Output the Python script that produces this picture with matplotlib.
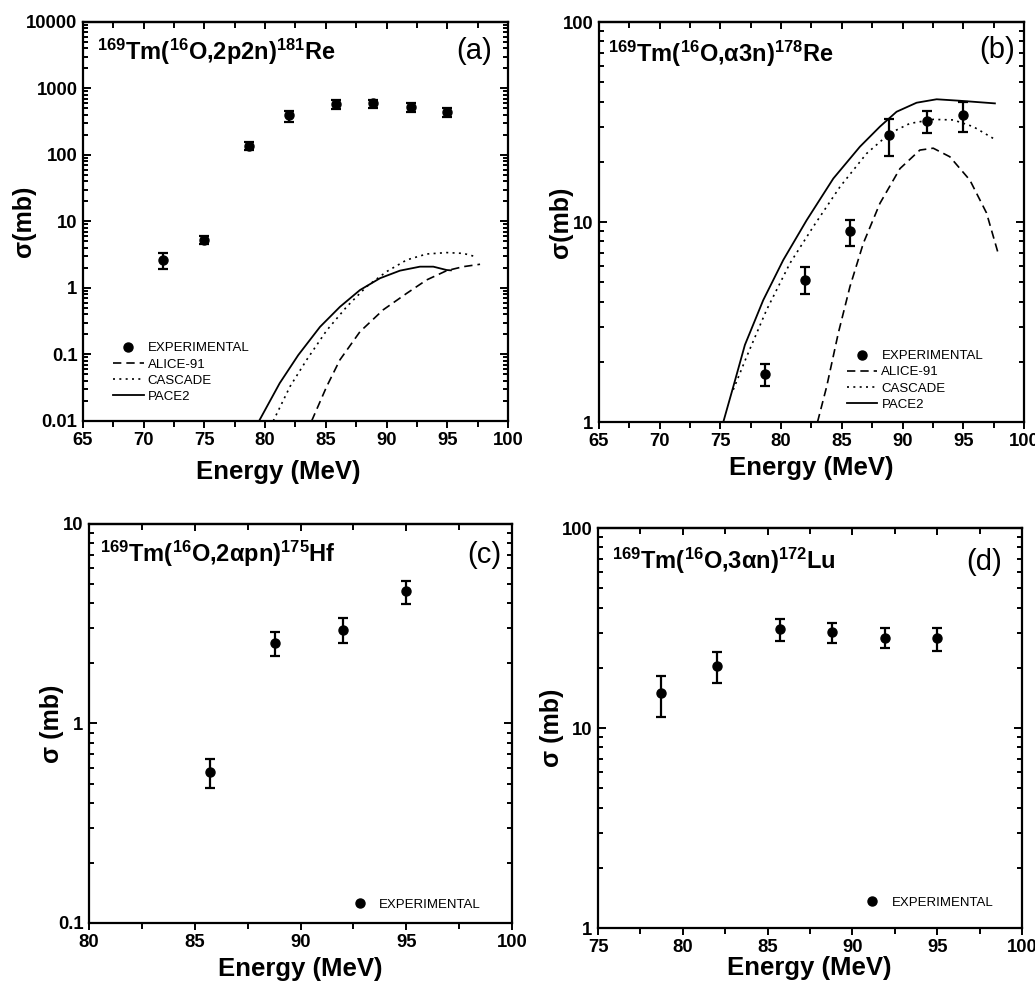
import numpy as np
import matplotlib
matplotlib.use("Agg")
import matplotlib.pyplot as plt
from matplotlib.ticker import MultipleLocator, LogLocator, FuncFormatter, NullFormatter

plt.rcParams['font.family'] = ['Liberation Sans', 'DejaVu Sans']
plt.rcParams['mathtext.fontset'] = 'custom'
plt.rcParams['mathtext.rm'] = 'Liberation Sans:bold'
plt.rcParams['mathtext.bf'] = 'Liberation Sans:bold'
plt.rcParams['mathtext.default'] = 'bf'

# (a) 169Tm(16O,2p2n)181Re
a_E = [71.6, 75.0, 78.7, 82.0, 85.8, 88.9, 92.0, 95.0]
a_sig = [2.6, 5.3, 136, 400, 585, 598, 521, 438]
a_lo = [1.9, 4.6, 119, 318, 490, 510, 450, 377]
a_hi = [3.4, 6.0, 155, 465, 680, 680, 600, 505]
a_alice_E = [83.83, 85.07, 86.16, 87.81, 89.73, 91.66, 93.3, 94.95, 96.32, 97.7]
a_alice = [0.01, 0.033, 0.083, 0.22, 0.47, 0.83, 1.32, 1.82, 2.09, 2.27]
a_casc_E = [80.67, 82.05, 83.42, 85.07, 86.71, 88.36, 90.0, 91.66, 93.3, 94.95, 96.32, 97.14]
a_casc = [0.01, 0.033, 0.083, 0.23, 0.52, 1.05, 1.76, 2.64, 3.24, 3.40, 3.31, 3.02]
a_pace_E = [79.5, 81.2, 82.73, 84.52, 86.16, 87.81, 89.46, 91.1, 92.75, 93.85, 94.95, 95.3]
a_pace = [0.01, 0.037, 0.098, 0.26, 0.52, 0.93, 1.40, 1.82, 2.09, 2.09, 1.86, 1.84]

# (b) 169Tm(16O,a3n)178Re
b_E = [78.7, 82.0, 85.7, 88.9, 92.0, 95.0]
b_sig = [1.73, 5.15, 8.98, 27.1, 32.0, 34.1]
b_lo = [1.51, 4.35, 7.6, 21.5, 27.8, 28.3]
b_hi = [1.94, 5.95, 10.2, 32.8, 35.8, 39.9]
b_alice_E = [83.0, 83.75, 84.71, 85.67, 86.77, 88.14, 89.79, 91.43, 92.53, 93.9, 95.55, 96.92, 97.88]
b_alice = [1.0, 1.5, 2.78, 4.75, 7.82, 12.4, 18.5, 22.9, 23.4, 21.2, 16.2, 11.1, 6.97]
b_casc_E = [76.06, 77.16, 78.8, 80.73, 82.65, 84.85, 87.04, 88.96, 90.6, 92.53, 94.18, 95.82, 97.47]
b_casc = [1.45, 2.12, 3.63, 6.22, 9.48, 15.0, 22.0, 27.8, 31.1, 32.6, 32.4, 30.0, 26.2]
b_pace_E = [75.24, 76.06, 77.02, 78.53, 80.18, 82.1, 84.3, 86.49, 88.14, 89.51, 91.16, 92.81, 94.73, 97.61]
b_pace = [1.0, 1.5, 2.43, 4.07, 6.46, 10.2, 16.5, 23.8, 30.0, 35.6, 39.5, 41.1, 40.4, 39.2]

# (c) 169Tm(16O,2apn)175Hf
c_E = [85.7, 88.8, 92.0, 95.0]
c_sig = [0.568, 2.53, 2.95, 4.59]
c_lo = [0.477, 2.17, 2.54, 3.98]
c_hi = [0.66, 2.86, 3.36, 5.2]

# (d) 169Tm(16O,3an)172Lu
d_E = [78.7, 82.0, 85.7, 88.8, 91.9, 95.0]
d_sig = [14.9, 20.5, 31.3, 30.1, 28.2, 28.1]
d_lo = [11.4, 16.8, 27.1, 26.5, 25.0, 24.4]
d_hi = [18.3, 24.1, 35.1, 33.5, 31.5, 31.5]

fig = plt.figure(figsize=(10.35, 9.84), dpi=100)
ax_a = fig.add_axes([0.0802, 0.5722, 0.4106, 0.4055])
ax_b = fig.add_axes([0.5787, 0.5711, 0.4106, 0.4065])
ax_c = fig.add_axes([0.0860, 0.0620, 0.4087, 0.4055])
ax_d = fig.add_axes([0.5778, 0.0569, 0.4097, 0.4065])


def exp_points(ax, E, s, lo, hi):
    s = np.array(s)
    yerr = [s - np.array(lo), np.array(hi) - s]
    ax.errorbar(E, s, yerr=yerr, fmt='none', ecolor='black', elinewidth=1.6,
                capsize=3.5, capthick=1.6)
    ax.plot(E, s, 'o', color='black', ms=6.5, label='EXPERIMENTAL')


def models(ax, aE, a, cE, c, pE, p):
    ax.plot(aE, a, color='black', lw=1.2, dashes=(5, 3), label='ALICE-91')
    ax.plot(cE, c, color='black', lw=1.2, dashes=(1.2, 2.6), label='CASCADE')
    ax.plot(pE, p, color='black', lw=1.3, label='PACE2')


def style(ax, xlim, ylim, xmaj, ylab, title, tag, tpos, tagpos, ylx, xlx, xly):
    ax.set_yscale('log')
    ax.set_xlim(*xlim)
    ax.set_ylim(*ylim)
    ax.xaxis.set_major_locator(MultipleLocator(xmaj))
    ax.xaxis.set_minor_locator(MultipleLocator(xmaj / 2))
    ax.yaxis.set_major_locator(LogLocator(base=10))
    ax.yaxis.set_minor_locator(LogLocator(base=10, subs=np.arange(2, 10)))
    ax.yaxis.set_major_formatter(FuncFormatter(lambda v, p: f'{v:g}'))
    ax.yaxis.set_minor_formatter(NullFormatter())
    for sp in ax.spines.values():
        sp.set_linewidth(1.6)
    ax.tick_params(axis='x', which='both', direction='out', top=False, width=1.4)
    ax.tick_params(axis='x', which='major', length=5, labelsize=13.3, pad=3)
    ax.tick_params(axis='x', which='minor', length=4)
    ax.tick_params(axis='y', which='both', direction='in', left=True, right=True, width=1.4)
    ax.tick_params(axis='y', which='major', length=6, labelsize=13.3, pad=4)
    ax.tick_params(axis='y', which='minor', length=3.5)
    for lab in ax.get_xticklabels() + ax.get_yticklabels():
        lab.set_fontweight('bold')
    top = ax.secondary_xaxis('top')
    top.xaxis.set_major_locator(MultipleLocator(xmaj))
    top.xaxis.set_minor_locator(MultipleLocator(xmaj / 2))
    top.tick_params(which='both', direction='in', labeltop=False, width=1.4)
    top.tick_params(which='major', length=5)
    top.tick_params(which='minor', length=4)
    top.spines['top'].set_linewidth(1.6)
    ax.set_xlabel('Energy (MeV)', fontsize=18.5, fontweight='bold', va='top')
    ax.xaxis.set_label_coords(xlx, xly)
    ax.set_ylabel(ylab, fontsize=18, fontweight='bold')
    ax.yaxis.set_label_coords(ylx, 0.5)
    ax.text(tpos[0], tpos[1], title, transform=ax.transAxes, fontsize=17,
            fontweight='bold', va='baseline', ha='left')
    ax.text(tagpos[0], tagpos[1], tag, transform=ax.transAxes, fontsize=21,
            va='center', ha='right')


def legend(ax, x, y):
    ax.legend(loc='lower left', bbox_to_anchor=(x, y), frameon=False, fontsize=9.5,
              handlelength=2.3, handletextpad=0.3, labelspacing=0.3, borderpad=0,
              borderaxespad=0, numpoints=1)


exp_points(ax_a, a_E, a_sig, a_lo, a_hi)
models(ax_a, a_alice_E, a_alice, a_casc_E, a_casc, a_pace_E, a_pace)
style(ax_a, (65, 100), (0.01, 10000), 5, 'σ(mb)',
      r'$^{169}$Tm($^{16}$O,2p2n)$^{181}$Re', '(a)', (0.033, 0.905), (0.962, 0.927),
      -0.11, 0.46, -0.098)
legend(ax_a, 0.071, 0.045)

exp_points(ax_b, b_E, b_sig, b_lo, b_hi)
models(ax_b, b_alice_E, b_alice, b_casc_E, b_casc, b_pace_E, b_pace)
style(ax_b, (65, 100), (1, 100), 5, 'σ(mb)',
      r'$^{169}$Tm($^{16}$O,α3n)$^{178}$Re', '(b)', (0.021, 0.90), (0.979, 0.93),
      -0.062, 0.50, -0.086)
legend(ax_b, 0.584, 0.028)

exp_points(ax_c, c_E, c_sig, c_lo, c_hi)
style(ax_c, (80, 100), (0.1, 10), 5, 'σ (mb)',
      r'$^{169}$Tm($^{16}$O,2αpn)$^{175}$Hf', '(c)', (0.026, 0.905), (0.976, 0.922),
      -0.06, 0.50, -0.085)
legend(ax_c, 0.605, 0.03)

exp_points(ax_d, d_E, d_sig, d_lo, d_hi)
style(ax_d, (75, 100), (1, 100), 5, 'σ (mb)',
      r'$^{169}$Tm($^{16}$O,3αn)$^{172}$Lu', '(d)', (0.033, 0.8975), (0.953, 0.915),
      -0.08, 0.498, -0.07)
legend(ax_d, 0.611, 0.0475)

fig.savefig('out.png', dpi=100)
